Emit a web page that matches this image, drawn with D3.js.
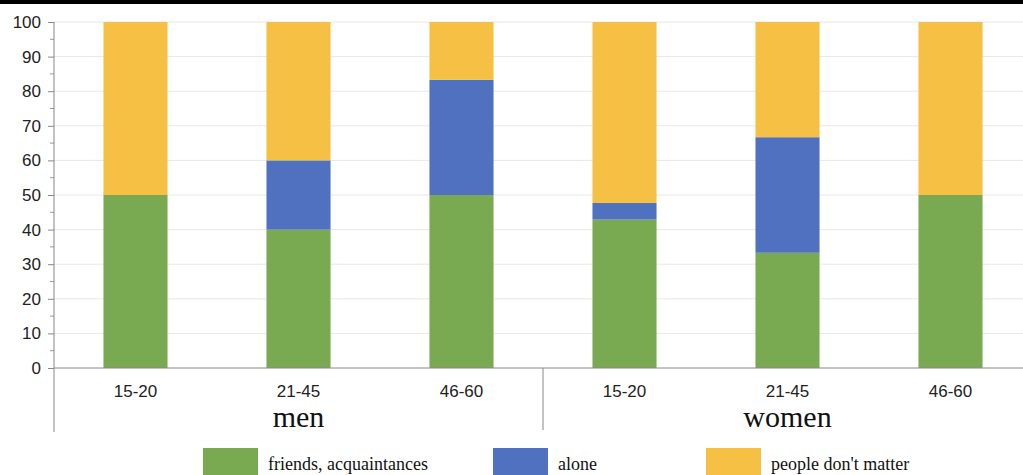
<!DOCTYPE html>
<html>
<head>
<meta charset="utf-8">
<script src="https://cdn.jsdelivr.net/npm/d3@7/dist/d3.min.js"></script>
<style>
html,body{margin:0;padding:0;background:#fff;}
svg{display:block;}
</style>
</head>
<body>
<svg id="chart" width="1023" height="475"></svg>
<script>
const groups = ["men", "women"];
const ageGroups = ["15-20", "21-45", "46-60"];
const categories = ["men|15-20", "men|21-45", "men|46-60", "women|15-20", "women|21-45", "women|46-60"];
const seriesNames = ["friends, acquaintances", "alone", "people don't matter"];
const friends = [50, 40, 50, 42.9, 33.3, 50];
const alone = [0, 20, 33.3, 4.8, 33.4, 0];
const peopleDontMatter = [50, 40, 16.7, 52.3, 33.3, 50];
const yTicks = [0, 10, 20, 30, 40, 50, 60, 70, 80, 90, 100];
const colors = ["#79aa52", "#4f71bf", "#f5c043"];

const svg = d3.select("#chart");
svg.append("rect").attr("x", 0).attr("y", 0).attr("width", 1023).attr("height", 4).attr("fill", "#000");

const mLeft = 54, mTop = 22, mBottom = 368;
const x = d3.scaleBand().domain(categories).range([mLeft, mLeft + 6 * 163]).paddingInner(0.607).paddingOuter(0.3035);
const y = d3.scaleLinear().domain([0, 100]).range([mBottom, mTop]);

// gridlines
svg.append("g").selectAll("line").data(yTicks.filter(d => d > 0)).join("line")
  .attr("x1", mLeft).attr("x2", 1023)
  .attr("y1", d => y(d)).attr("y2", d => y(d))
  .attr("stroke", "#e8e8e8").attr("stroke-width", 1);

// stacked bars
const rows = categories.map((c, i) => ({cat: c, s0: friends[i], s1: alone[i], s2: peopleDontMatter[i]}));
const stack = d3.stack().keys(["s0", "s1", "s2"]);
const stacked = stack(rows);
svg.append("g").selectAll("g").data(stacked).join("g")
  .attr("fill", (d, i) => colors[i])
  .selectAll("rect").data(d => d).join("rect")
  .attr("x", d => x(d.data.cat))
  .attr("width", x.bandwidth())
  .attr("y", d => y(d[1]))
  .attr("height", d => y(d[0]) - y(d[1]));

// y axis
const yAxis = d3.axisLeft(y).tickValues(yTicks).tickSize(6).tickFormat(d3.format("d"));
const gy = svg.append("g").attr("transform", `translate(${mLeft},0)`).call(yAxis);
gy.select(".domain").remove();
gy.selectAll(".tick line").attr("stroke", "#888");
gy.selectAll(".tick text").attr("font-family", "Liberation Sans, Arial, sans-serif").attr("font-size", 17).attr("fill", "#222").attr("x", -13);
// minor ticks
svg.append("g").selectAll("line").data(d3.range(5, 100, 10)).join("line")
  .attr("x1", mLeft - 4).attr("x2", mLeft)
  .attr("y1", d => y(d)).attr("y2", d => y(d))
  .attr("stroke", "#999");
svg.append("line").attr("x1", mLeft).attr("x2", mLeft).attr("y1", mTop).attr("y2", 432).attr("stroke", "#888");

// x axis
svg.append("line").attr("x1", mLeft).attr("x2", 1023).attr("y1", mBottom).attr("y2", mBottom).attr("stroke", "#888");
svg.append("line").attr("x1", mLeft + 3 * 163).attr("x2", mLeft + 3 * 163).attr("y1", mBottom).attr("y2", 430).attr("stroke", "#888");
svg.append("g").selectAll("text").data(categories).join("text")
  .attr("x", d => x(d) + x.bandwidth() / 2)
  .attr("y", 397)
  .attr("text-anchor", "middle")
  .attr("font-family", "Liberation Sans, Arial, sans-serif").attr("font-size", 17).attr("fill", "#222")
  .text(d => d.split("|")[1]);
svg.append("g").selectAll("text").data(groups).join("text")
  .attr("x", (d, i) => x(categories[i * 3 + 1]) + x.bandwidth() / 2)
  .attr("y", 427)
  .attr("text-anchor", "middle")
  .attr("font-family", "Liberation Serif, Times New Roman, serif").attr("font-size", 30).attr("fill", "#111")
  .text(d => d);

// legend
const legX = [203, 493, 706];
const lg = svg.append("g").selectAll("g").data(seriesNames).join("g");
lg.append("rect").attr("x", (d, i) => legX[i]).attr("y", 448).attr("width", 55).attr("height", 30).attr("fill", (d, i) => colors[i]);
lg.append("text").attr("x", (d, i) => legX[i] + 65).attr("y", 470)
  .attr("font-family", "Liberation Serif, Times New Roman, serif").attr("font-size", 18).attr("fill", "#111")
  .text(d => d);
</script>
</body>
</html>
